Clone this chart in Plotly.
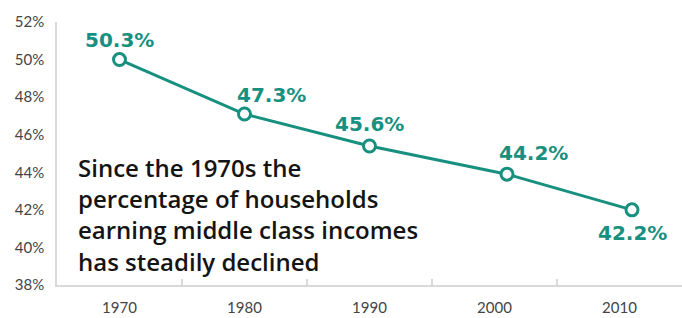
import plotly.graph_objects as go

# Data
years = [1970, 1980, 1990, 2001, 2011]
share = [50.0, 47.1, 45.4, 43.9, 42.0]          # plotted positions (%)
labels = ["50.3%", "47.3%", "45.6%", "44.2%", "42.2%"]  # printed labels
tick_years = [1970, 1980, 1990, 2000, 2010]
tick_year_text = ["1970", "1980", "1990", "2000", "2010"]
y_ticks = [38, 40, 42, 44, 46, 48, 50, 52]
y_tick_text = ["38%", "40%", "42%", "44%", "46%", "48%", "50%", "52%"]
note = "Since the 1970s the<br>percentage of households<br>earning middle class incomes<br>has steadily declined"

# label placement (pixel shifts from each point)
label_dx = [0, 27, 0, 26, 0]
label_dy = [20, 19, 22, 21, -23]

teal = "#17907f"

fig = go.Figure()
fig.add_trace(go.Scatter(
    x=years, y=share, mode="lines+markers",
    line=dict(color=teal, width=3),
    marker=dict(size=12, color="white", line=dict(color=teal, width=3)),
    cliponaxis=False, hoverinfo="skip", showlegend=False,
))

for xv, yv, t, dx, dy in zip(years, share, labels, label_dx, label_dy):
    fig.add_annotation(
        x=xv, y=yv, xref="x", yref="y", text=t, showarrow=False,
        xshift=dx, yshift=dy, xanchor="center", yanchor="middle",
        font=dict(family="DejaVu Sans", size=20, color=teal, weight="bold"),
    )

fig.add_annotation(
    x=0.03, y=0.268, xref="paper", yref="paper", text=note, showarrow=False,
    xanchor="left", yanchor="middle", align="left",
    font=dict(family="Open Sans", size=24, color="#141414", weight=600),
)

fig.update_layout(
    width=682, height=318,
    margin=dict(l=57, r=0, t=22, b=33),
    paper_bgcolor="white", plot_bgcolor="white",
    hovermode=False,
    xaxis=dict(
        range=[1965, 2015], tickvals=tick_years, ticktext=tick_year_text,
        ticks="", showgrid=False, zeroline=False,
        showline=True, linecolor="#d9d9d9", linewidth=1.5,
        tickfont=dict(family="Lato", size=15, color="#444444"),
        ticklabelstandoff=8,
        minor=dict(tickvals=[1975, 1985, 1995, 2005], ticks="inside",
                   ticklen=6, tickcolor="#d9d9d9", tickwidth=1.5, showgrid=False),
    ),
    yaxis=dict(
        range=[38, 52], tickvals=y_ticks, ticktext=y_tick_text,
        ticks="", showgrid=False, zeroline=False,
        showline=True, linecolor="#d9d9d9", linewidth=1.5,
        tickfont=dict(family="Lato", size=15, color="#444444"),
        ticklabelstandoff=8,
    ),
)

fig.write_html("out.html", config={"displayModeBar": False},
               post_script="document.body.style.margin='0';")
